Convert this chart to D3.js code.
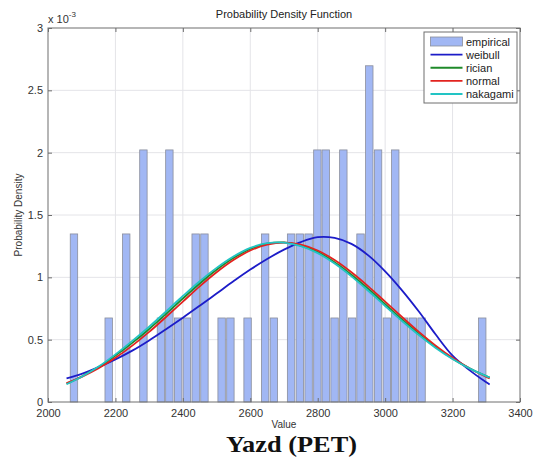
<!DOCTYPE html>
<html>
<head>
<meta charset="utf-8">
<script src="https://cdn.jsdelivr.net/npm/d3@7"></script>
<style>
  body { margin: 0; background: #fff; }
  svg { display: block; font-family: "Liberation Sans", Arial, sans-serif; }
</style>
</head>
<body>
<div id="chart"></div>
<script>
// histogram bins (bin centre, density in units of 1e-3)
var binCenters = [2077, 2180, 2232, 2283, 2335, 2360, 2386, 2412, 2438, 2464,
                  2515, 2541, 2592, 2644, 2670, 2721, 2747, 2773, 2799, 2824,
                  2850, 2876, 2902, 2927, 2953, 2979, 3005, 3030, 3056, 3082,
                  3108, 3288];
var binDensity = [1.348, 0.674, 1.348, 2.022, 0.674, 2.022, 0.674, 0.674, 1.348, 1.348,
                  0.674, 0.674, 0.674, 1.348, 0.674, 1.348, 1.348, 1.348, 2.022, 2.022,
                  0.674, 2.022, 0.674, 1.348, 2.697, 2.022, 0.674, 2.022, 0.674, 0.674,
                  0.674, 0.674];

// fitted curves, sampled on curveX (density in units of 1e-3)
var curveX = [2055, 2100, 2150, 2200, 2250, 2300, 2350, 2400, 2450, 2500,
              2550, 2600, 2650, 2700, 2750, 2800, 2850, 2900, 2950, 3000,
              3050, 3100, 3150, 3200, 3250, 3300, 3310];
var weibull = [0.190, 0.226, 0.280, 0.342, 0.412, 0.494, 0.584, 0.676, 0.772, 0.870,
               0.968, 1.062, 1.147, 1.222, 1.283, 1.322, 1.316, 1.268, 1.176, 1.048,
               0.896, 0.726, 0.541, 0.372, 0.256, 0.158, 0.140];
var rician = [0.147, 0.205, 0.280, 0.372, 0.474, 0.586, 0.706, 0.830, 0.951, 1.061,
              1.155, 1.228, 1.270, 1.280, 1.255, 1.203, 1.122, 1.021, 0.906, 0.784,
              0.662, 0.546, 0.440, 0.348, 0.271, 0.207, 0.196];
var normal = [0.151, 0.201, 0.270, 0.354, 0.452, 0.562, 0.682, 0.805, 0.928, 1.041,
              1.139, 1.215, 1.262, 1.279, 1.262, 1.215, 1.139, 1.041, 0.928, 0.805,
              0.682, 0.562, 0.452, 0.354, 0.270, 0.201, 0.189];
var nakagami = [0.142, 0.203, 0.284, 0.382, 0.490, 0.604, 0.726, 0.850, 0.969, 1.076,
                1.167, 1.236, 1.274, 1.279, 1.250, 1.194, 1.111, 1.008, 0.892, 0.770,
                0.650, 0.537, 0.434, 0.345, 0.270, 0.208, 0.197];

var xTicks = [2000, 2200, 2400, 2600, 2800, 3000, 3200, 3400];
var yTicks = [0, 0.5, 1, 1.5, 2, 2.5, 3];
var seriesNames = ["weibull", "rician", "normal", "nakagami"];
var seriesColors = ["#1c1cc8", "#1f8a2a", "#e2231f", "#22c4c4"];

(function() {
  var width = 535, height = 464;
  var pLeft = 48, pRight = 520, pTop = 28, pBottom = 402;

  var svg = d3.select("#chart").append("svg")
      .attr("width", width)
      .attr("height", height);

  var x = d3.scaleLinear().domain([2000, 3400]).range([pLeft, pRight]);
  var y = d3.scaleLinear().domain([0, 3]).range([pBottom, pTop]);

  // grid
  svg.append("g")
      .selectAll("line")
      .data(xTicks.slice(1, -1))
      .enter().append("line")
      .attr("x1", function(d) { return x(d); })
      .attr("x2", function(d) { return x(d); })
      .attr("y1", pTop).attr("y2", pBottom)
      .attr("stroke", "#e4e4e8");
  svg.append("g")
      .selectAll("line")
      .data(yTicks.slice(1, -1))
      .enter().append("line")
      .attr("y1", function(d) { return y(d); })
      .attr("y2", function(d) { return y(d); })
      .attr("x1", pLeft).attr("x2", pRight)
      .attr("stroke", "#e4e4e8");

  // bars
  var barW = x(2022) - x(2000);
  svg.append("g")
      .selectAll("rect")
      .data(binCenters)
      .enter().append("rect")
      .attr("x", function(d) { return x(d) - barW / 2; })
      .attr("y", function(d, i) { return y(binDensity[i]); })
      .attr("width", barW)
      .attr("height", function(d, i) { return y(0) - y(binDensity[i]); })
      .attr("fill", "#a1b7f4")
      .attr("stroke", "#8a8e9c")
      .attr("stroke-width", 0.8);

  // curves
  var line = d3.line()
      .x(function(d) { return x(d[0]); })
      .y(function(d) { return y(d[1]); })
      .curve(d3.curveCatmullRom.alpha(0.5));
  [weibull, rician, normal, nakagami].forEach(function(vals, k) {
    svg.append("path")
        .datum(curveX.map(function(cx, i) { return [cx, vals[i]]; }))
        .attr("d", line)
        .attr("fill", "none")
        .attr("stroke", seriesColors[k])
        .attr("stroke-width", 1.8);
  });

  // axes box and ticks
  var axisColor = "#6e6e6e";
  svg.append("rect")
      .attr("x", pLeft).attr("y", pTop)
      .attr("width", pRight - pLeft).attr("height", pBottom - pTop)
      .attr("fill", "none").attr("stroke", axisColor);

  var xAxis = svg.append("g")
      .attr("transform", "translate(0," + pBottom + ")")
      .call(d3.axisBottom(x).tickValues(xTicks).tickSize(-4).tickPadding(7)
            .tickFormat(d3.format("d")));
  var yAxis = svg.append("g")
      .attr("transform", "translate(" + pLeft + ",0)")
      .call(d3.axisLeft(y).tickValues(yTicks).tickSize(-4).tickPadding(5)
            .tickFormat(function(d) { return d; }));
  var xTop = svg.append("g")
      .attr("transform", "translate(0," + pTop + ")")
      .call(d3.axisTop(x).tickValues(xTicks).tickSize(-4).tickFormat(""));
  var yRight = svg.append("g")
      .attr("transform", "translate(" + pRight + ",0)")
      .call(d3.axisRight(y).tickValues(yTicks).tickSize(-4).tickFormat(""));
  [xAxis, yAxis, xTop, yRight].forEach(function(a) {
    a.select(".domain").remove();
    a.selectAll("line").attr("stroke", axisColor);
    a.selectAll("text")
        .attr("fill", "#333")
        .style("font-size", "11px")
        .style("font-family", "'Liberation Sans', Arial, sans-serif");
  });

  // texts
  svg.append("text")
      .attr("x", (pLeft + pRight) / 2).attr("y", 18)
      .attr("text-anchor", "middle")
      .style("font-size", "11px").attr("fill", "#222")
      .text("Probability Density Function");

  var mult = svg.append("text")
      .attr("x", pLeft).attr("y", 23)
      .style("font-size", "11px").attr("fill", "#333");
  mult.append("tspan").text("x 10");
  mult.append("tspan").attr("dy", -6).style("font-size", "8px").text("-3");

  svg.append("text")
      .attr("x", (pLeft + pRight) / 2).attr("y", 428)
      .attr("text-anchor", "middle")
      .style("font-size", "10px").attr("fill", "#333")
      .text("Value");

  svg.append("text")
      .attr("transform", "translate(22," + ((pTop + pBottom) / 2) + ") rotate(-90)")
      .attr("text-anchor", "middle")
      .style("font-size", "10px").attr("fill", "#333")
      .text("Probability Density");

  svg.append("text")
      .attr("x", 226).attr("y", 452)
      .attr("textLength", 131)
      .attr("lengthAdjust", "spacingAndGlyphs")
      .style("font-family", "'Liberation Serif', 'Times New Roman', serif")
      .style("font-weight", "bold")
      .style("font-size", "24px")
      .attr("fill", "#111")
      .text("Yazd (PET)");

  // legend
  var lg = svg.append("g").attr("transform", "translate(424,32)");
  lg.append("rect")
      .attr("width", 93).attr("height", 71)
      .attr("fill", "#fff").attr("stroke", axisColor);
  var rowY = d3.scaleLinear().domain([0, 4]).range([9.5, 62]);
  lg.append("rect")
      .attr("x", 6.5).attr("y", rowY(0) - 4.5)
      .attr("width", 32).attr("height", 9)
      .attr("fill", "#a1b7f4").attr("stroke", "#8a8e9c").attr("stroke-width", 0.8);
  seriesNames.forEach(function(name, k) {
    lg.append("line")
        .attr("x1", 6.5).attr("x2", 38.5)
        .attr("y1", rowY(k + 1)).attr("y2", rowY(k + 1))
        .attr("stroke", seriesColors[k]).attr("stroke-width", 1.8);
  });
  ["empirical"].concat(seriesNames).forEach(function(name, k) {
    lg.append("text")
        .attr("x", 42).attr("y", rowY(k) + 4)
        .style("font-size", "11px").attr("fill", "#222")
        .text(name);
  });
})();
</script>
</body>
</html>
